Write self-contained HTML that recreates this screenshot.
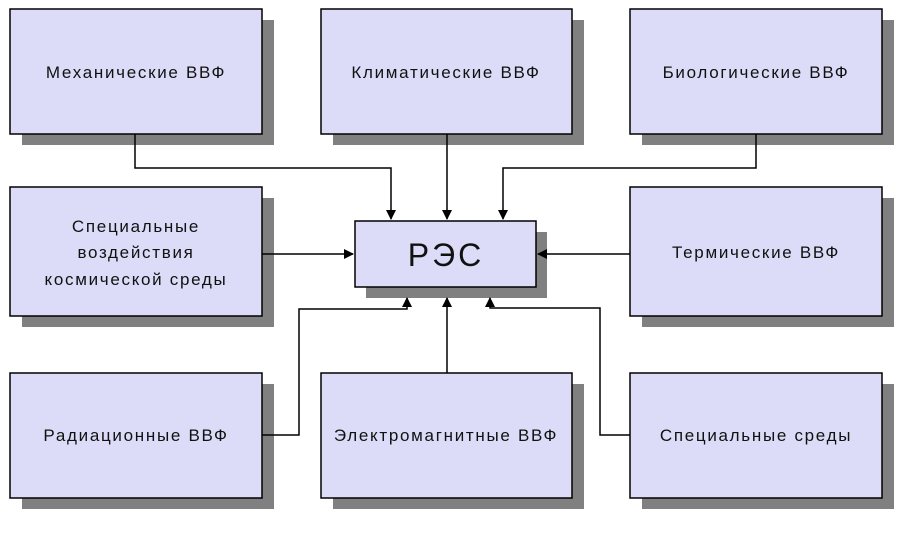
<!DOCTYPE html>
<html><head><meta charset="utf-8"><style>
html,body{margin:0;padding:0;background:#fff;}
svg{display:block}
text{font-family:"Liberation Sans","DejaVu Sans",sans-serif;font-size:17px;letter-spacing:1.7px;fill:#111;text-anchor:middle;}
</style></head><body>
<svg width="908" height="534" viewBox="0 0 908 534" xmlns="http://www.w3.org/2000/svg">
<defs>
<marker id="a" markerWidth="10" markerHeight="10" refX="9" refY="5" orient="auto" markerUnits="userSpaceOnUse">
<path d="M0,0 L10,5 L0,10 z" fill="#000"/></marker>
</defs>
<g fill="#808080">
<rect x="22" y="20" width="252" height="125"/>
<rect x="333" y="20" width="251" height="125"/>
<rect x="642" y="20" width="252" height="125"/>
<rect x="22" y="198" width="252" height="129"/>
<rect x="642" y="198" width="252" height="129"/>
<rect x="366" y="232" width="181" height="66"/>
<rect x="22" y="384" width="252" height="125"/>
<rect x="333" y="384" width="251" height="125"/>
<rect x="642" y="384" width="252" height="125"/>
</g>
<g fill="none" stroke="#000" stroke-width="1.5">
<path d="M135,134 V168 H391 V219" marker-end="url(#a)"/>
<path d="M447,134 V219" marker-end="url(#a)"/>
<path d="M756,134 V168 H503 V219" marker-end="url(#a)"/>
<path d="M262,254 H353" marker-end="url(#a)"/>
<path d="M630,254 H538" marker-end="url(#a)"/>
<path d="M262,435 H299 V309 H407 V298" marker-end="url(#a)"/>
<path d="M447,373 V298" marker-end="url(#a)"/>
<path d="M630,435 H600 V308 H490 V298" marker-end="url(#a)"/>
</g>
<g fill="#dcdcf8" stroke="#000" stroke-width="1.5">
<rect x="10" y="9" width="252" height="125"/>
<rect x="321" y="9" width="251" height="125"/>
<rect x="630" y="9" width="252" height="125"/>
<rect x="10" y="187" width="252" height="129"/>
<rect x="630" y="187" width="252" height="129"/>
<rect x="355" y="221" width="181" height="66"/>
<rect x="10" y="373" width="252" height="125"/>
<rect x="321" y="373" width="251" height="125"/>
<rect x="630" y="373" width="252" height="125"/>
</g>
<text x="136" y="78">Механические ВВФ</text>
<text x="446" y="78">Климатические ВВФ</text>
<text x="756" y="78">Биологические ВВФ</text>
<text x="136" y="232">Специальные</text>
<text x="136" y="258">воздействия</text>
<text x="136" y="285">космической среды</text>
<text x="756" y="258">Термические ВВФ</text>
<text x="446" y="266" style="font-size:32px;letter-spacing:3px">РЭС</text>
<text x="136" y="441">Радиационные ВВФ</text>
<text x="446" y="441">Электромагнитные ВВФ</text>
<text x="756" y="441">Специальные среды</text>
</svg>
</body></html>
